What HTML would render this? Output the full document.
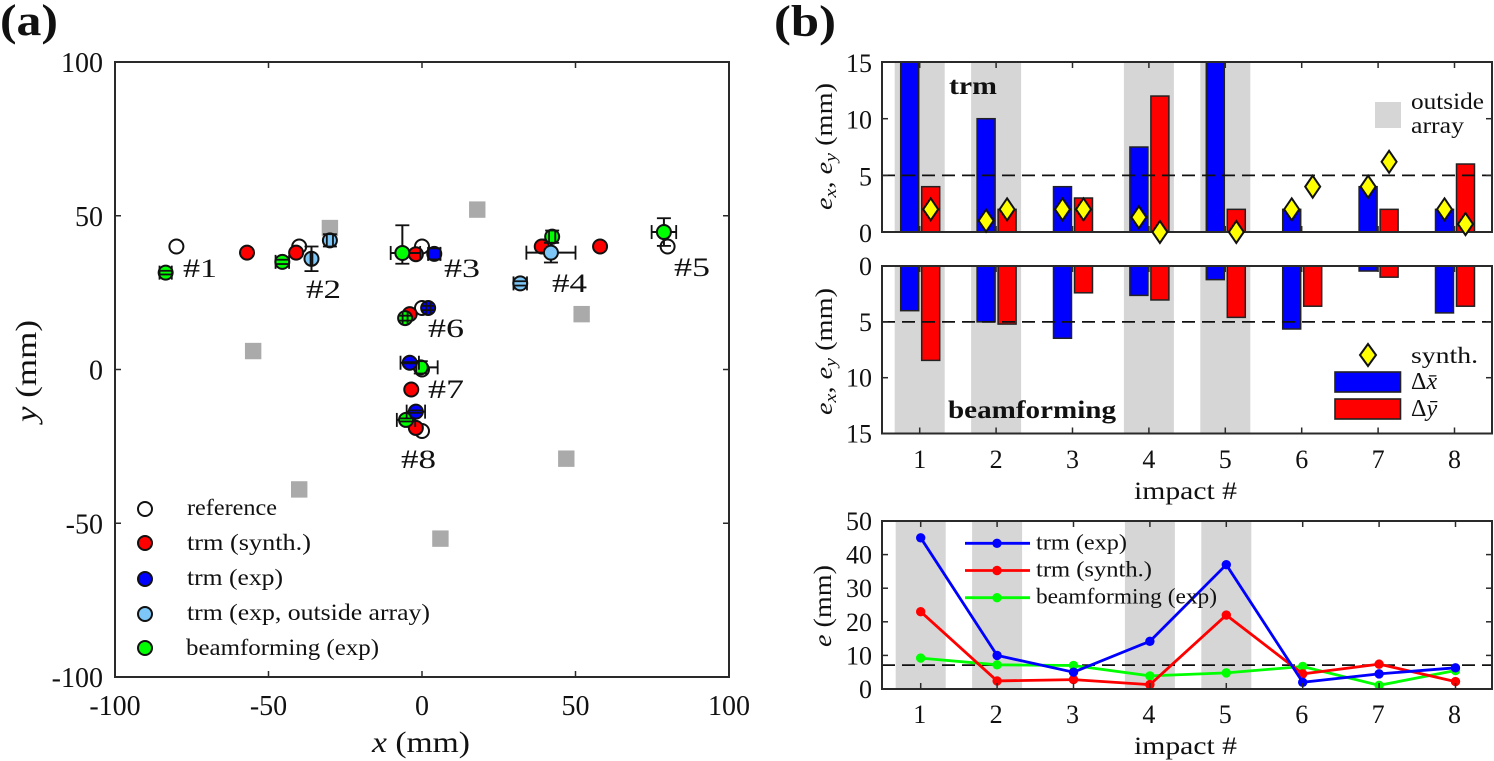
<!DOCTYPE html>
<html lang="en">
<head>
<meta charset="utf-8">
<title>Impact localisation results</title>
<style>
html,body{margin:0;padding:0;background:#fff;width:1494px;height:761px;overflow:hidden}
svg{display:block}
text{font-family:"Liberation Serif","DejaVu Serif",serif;fill:#111}
.i{font-style:italic}
</style>
</head>
<body>
<svg id="fig" xmlns="http://www.w3.org/2000/svg" width="1494" height="761" viewBox="0 0 1494 761">
  <defs>
    <clipPath id="clip-b1"><rect x="882" y="62" width="610" height="170"/></clipPath>
    <clipPath id="clip-b2"><rect x="882" y="266" width="610" height="168"/></clipPath>
  </defs>
  <g id="layer-a"></g>
  <g id="layer-b1"></g>
  <g id="layer-b2"></g>
  <g id="layer-b3"></g>

  <text x="0" y="35" font-size="44" font-weight="bold" textLength="58" lengthAdjust="spacingAndGlyphs">(a)</text>
  <text x="774" y="36" font-size="44" font-weight="bold" textLength="62" lengthAdjust="spacingAndGlyphs">(b)</text>

  <text x="372" y="752" font-size="30" textLength="98" lengthAdjust="spacingAndGlyphs"><tspan class="i">x</tspan> (mm)</text>
  <text transform="translate(36,422) rotate(-90)" font-size="30" textLength="102" lengthAdjust="spacingAndGlyphs"><tspan class="i">y</tspan> (mm)</text>

  <text x="183" y="277" font-size="26" textLength="34" lengthAdjust="spacingAndGlyphs">#1</text>
  <text x="306" y="298" font-size="26" textLength="35" lengthAdjust="spacingAndGlyphs">#2</text>
  <text x="444" y="277" font-size="26" textLength="36" lengthAdjust="spacingAndGlyphs">#3</text>
  <text x="552" y="292" font-size="26" textLength="35" lengthAdjust="spacingAndGlyphs">#4</text>
  <text x="674" y="276" font-size="26" textLength="36" lengthAdjust="spacingAndGlyphs">#5</text>
  <text x="428" y="337" font-size="26" textLength="36" lengthAdjust="spacingAndGlyphs">#6</text>
  <text x="428" y="398" font-size="26" textLength="36" lengthAdjust="spacingAndGlyphs">#7</text>
  <text x="401" y="468" font-size="26" textLength="35" lengthAdjust="spacingAndGlyphs">#8</text>

  <g>
    <circle cx="145" cy="509" r="7" fill="#fff" stroke="#111" stroke-width="2"/>
    <circle cx="145" cy="543" r="7" fill="#f00" stroke="#111" stroke-width="2"/>
    <circle cx="145" cy="579" r="7" fill="#00f" stroke="#111" stroke-width="2"/>
    <circle cx="145" cy="614" r="7" fill="#7cc7f7" stroke="#111" stroke-width="2"/>
    <circle cx="145" cy="648" r="7" fill="#0f0" stroke="#111" stroke-width="2"/>
    <text x="187" y="515" font-size="23" textLength="90" lengthAdjust="spacingAndGlyphs">reference</text>
    <text x="187" y="550" font-size="23" textLength="124" lengthAdjust="spacingAndGlyphs">trm (synth.)</text>
    <text x="187" y="585" font-size="23" textLength="96" lengthAdjust="spacingAndGlyphs">trm (exp)</text>
    <text x="187" y="620" font-size="23" textLength="243" lengthAdjust="spacingAndGlyphs">trm (exp, outside array)</text>
    <text x="186" y="655" font-size="23" textLength="193" lengthAdjust="spacingAndGlyphs">beamforming (exp)</text>
  </g>

  <text transform="translate(832,210) rotate(-90)" font-size="24" textLength="127" lengthAdjust="spacingAndGlyphs"><tspan class="i">e</tspan><tspan class="i" font-size="17" dy="4">x</tspan><tspan dy="-4">, </tspan><tspan class="i">e</tspan><tspan class="i" font-size="17" dy="4">y</tspan><tspan dy="-4"> (mm)</tspan></text>
  <text transform="translate(832,415) rotate(-90)" font-size="24" textLength="127" lengthAdjust="spacingAndGlyphs"><tspan class="i">e</tspan><tspan class="i" font-size="17" dy="4">x</tspan><tspan dy="-4">, </tspan><tspan class="i">e</tspan><tspan class="i" font-size="17" dy="4">y</tspan><tspan dy="-4"> (mm)</tspan></text>
  <text transform="translate(831,647) rotate(-90)" font-size="25" textLength="82" lengthAdjust="spacingAndGlyphs"><tspan class="i">e</tspan> (mm)</text>

  <text x="1134" y="499" font-size="25" textLength="103" lengthAdjust="spacingAndGlyphs">impact #</text>
  <text x="1134" y="754" font-size="25" textLength="103" lengthAdjust="spacingAndGlyphs">impact #</text>

  <text x="949" y="94" font-size="25" font-weight="bold" textLength="48" lengthAdjust="spacingAndGlyphs">trm</text>
  <text x="948" y="418" font-size="25" font-weight="bold" textLength="168" lengthAdjust="spacingAndGlyphs">beamforming</text>

  <g id="bar-legend">
    <rect x="1375" y="102" width="26" height="26" fill="#d6d6d6"/>
    <text x="1411" y="109" font-size="23" textLength="73" lengthAdjust="spacingAndGlyphs">outside</text>
    <text x="1411" y="133" font-size="23" textLength="53" lengthAdjust="spacingAndGlyphs">array</text>
    <polygon points="1368,344 1376,355 1368,366 1360,355" fill="#ff0" stroke="#111" stroke-width="2"/>
    <text x="1411" y="363" font-size="23" textLength="67" lengthAdjust="spacingAndGlyphs">synth.</text>
    <rect x="1335" y="372" width="65.5" height="20" fill="#00f" stroke="#222" stroke-width="1.6"/>
    <rect x="1335" y="399" width="65.5" height="20" fill="#f00" stroke="#222" stroke-width="1.6"/>
    <text x="1411" y="389" font-size="24">Δ<tspan class="i">x̄</tspan></text>
    <text x="1411" y="416" font-size="24">Δ<tspan class="i">ȳ</tspan></text>
  </g>

  <g id="line-legend"></g>
</svg>

<script>
// ---- map panel data (mm) ----
const mapTicks = [-100, -50, 0, 50, 100];
const refX = [-80, -40, 0, 40, 80, 0, 0, 0];
const refY = [40, 40, 40, 40, 40, 20, 0, -20];
const synthX = [-57, -41, -2, 39, 58, -4, -3.5, -2];
const synthY = [38, 38, 37.5, 40, 40, 18, -6.5, -19];
const beamX = [-83.5, -45.5, -6.4, 42.4, 78.8, -5.5, -0.4, -5.2];
const beamY = [31.5, 35, 37.9, 43.2, 44.7, 16.7, 0.7, -16.4];
const beamErrXLeft = [2, 2.2, 3.8, 1, 4, 0.8, 1.5, 3];
const beamErrXRight = [2, 2.2, 5.8, 1, 4, 0.8, 5.5, 3];
const beamErrYUp = [0.6, 0.7, 9, 2, 4.5, 0.8, 2, 0.5];
const beamErrYDown = [0.6, 0.7, 3.5, 2, 4.5, 0.8, 2, 0.5];
const trmExpX = [4, 2, -4, -2];
const trmExpY = [37.6, 20, 2.2, -13.7];
const trmExpErrX = [2, 0.7, 3, 3];
const trmExpErrY = [1.8, 0.7, 0.2, 0.4];
const outsideX = [-36, -30, 32, 42];
const outsideY = [36, 42, 28, 38];
const outsideErrX = [0.3, 1, 2.2, 8];
const outsideErrY = [4, 2, 0.7, 3.2];
const sensorX = [-30, 18, 52, -55, 47, -40, 6];
const sensorY = [46, 52, 18, 6, -29, -39, -55];

// ---- bar panel data ----
const impacts = [1, 2, 3, 4, 5, 6, 7, 8];
const outsideImpacts = [1, 2, 4, 5];
const trmTicks = [0, 5, 10, 15];
const trmDx = [16, 10, 4, 7.5, 16, 2, 4, 2];
const trmDy = [4, 2, 3, 12, 2, 0, 2, 6];
const synthDx = [null, 1, 2, 1.3, null, 2, 4, 2];
const synthDy = [2, 2, 2, 0, 0, 4, 6.2, 0.7];
const trmThreshold = [5];
const beamDx = [4, 5, 6.47, 2.63, 1.22, 5.64, 0.45, 4.2];
const beamDy = [8.45, 5.2, 2.4, 3.04, 4.6, 3.6, 1, 3.6];

// ---- total error panel data ----
const totalTicks = [0, 10, 20, 30, 40, 50];
const totalTrmExp = [45, 10, 5, 14.2, 37, 2, 4.5, 6.3];
const totalTrmSynth = [23, 2.4, 2.8, 1.3, 22, 4.5, 7.4, 2.2];
const totalBeam = [9.2, 7.2, 7, 3.9, 4.8, 6.7, 1.1, 5.5];
const totalThreshold = [7.1];

const NS = 'http://www.w3.org/2000/svg';
const AXIS = '#2a2a2a';

function add(parent, tag, attrs, txt) {
  const node = document.createElementNS(NS, tag);
  for (const k in attrs) node.setAttribute(k, attrs[k]);
  if (txt !== undefined) node.textContent = txt;
  parent.appendChild(node);
  return node;
}
function tickMark(parent, x1, y1, x2, y2) {
  const el = add(parent, 'line', {x1, y1, x2, y2, stroke: AXIS, 'stroke-width': 1.5});
  
  
}
function tickLabel(parent, x, y, anchor, size, s) {
  const el = add(parent, 'text', {x, y, 'text-anchor': anchor, 'font-size': size}, s);
  
  
}
function box(parent, x, y, w, h) {
  const el = add(parent, 'rect', {x, y, width: w, height: h, fill: 'none', stroke: AXIS, 'stroke-width': 2});
  
  
}
function dashed(parent, y) {
  const el = add(parent, 'line', {x1: 882, x2: 1492, y1: y, y2: y, stroke: '#111', 'stroke-width': 1.8, 'stroke-dasharray': '13 7'});
  
  
}
function band(parent, cx, top, h) {
  const el = add(parent, 'rect', {x: cx - 25, y: top, width: 50, height: h, fill: '#d6d6d6'});
  
  
}

// ---- panel (a) ----
const mapX = v => 422 + v * 3.07;
const mapY = v => 369.5 - v * 3.075;
const gA = document.getElementById('layer-a');

sensorX.forEach((v, i) => {
  const el = add(gA, 'rect', {x: mapX(v) - 8.2, y: mapY(sensorY[i]) - 8.2, width: 16.4, height: 16.4, fill: '#aaa'});
  
  
});

function marker(x, y, fill) {
  const el = add(gA, 'circle', {cx: mapX(x), cy: mapY(y), r: 7, fill, stroke: '#111', 'stroke-width': 2});
  
  
}
function errStem(x, y, el_, er, eu, ed) {
  const cx = mapX(x), cy = mapY(y);
  const h = add(gA, 'line', {x1: mapX(x - el_), x2: mapX(x + er), y1: cy, y2: cy, stroke: '#111', 'stroke-width': 2});
  
  
  const v = add(gA, 'line', {x1: cx, x2: cx, y1: mapY(y + eu), y2: mapY(y - ed), stroke: '#111', 'stroke-width': 2});
  
  
}
function errCaps(x, y, el_, er, eu, ed) {
  const cx = mapX(x), cy = mapY(y), c = 7;
  [x - el_, x + er].forEach(p => {
    const el = add(gA, 'line', {x1: mapX(p), x2: mapX(p), y1: cy - c, y2: cy + c, stroke: '#111', 'stroke-width': 1.8});
    
    
  });
  [y + eu, y - ed].forEach(p => {
    const el = add(gA, 'line', {x1: cx - c, x2: cx + c, y1: mapY(p), y2: mapY(p), stroke: '#111', 'stroke-width': 1.8});
    
    
  });
}

refX.forEach((v, i) => marker(v, refY[i], '#fff'));
synthX.forEach((v, i) => marker(v, synthY[i], '#f00'));
beamX.forEach((v, i) => {
  errStem(v, beamY[i], beamErrXLeft[i], beamErrXRight[i], beamErrYUp[i], beamErrYDown[i]);
  marker(v, beamY[i], '#0f0');
  errCaps(v, beamY[i], beamErrXLeft[i], beamErrXRight[i], beamErrYUp[i], beamErrYDown[i]);
});
trmExpX.forEach((v, i) => {
  errStem(v, trmExpY[i], trmExpErrX[i], trmExpErrX[i], trmExpErrY[i], trmExpErrY[i]);
  marker(v, trmExpY[i], '#00f');
  errCaps(v, trmExpY[i], trmExpErrX[i], trmExpErrX[i], trmExpErrY[i], trmExpErrY[i]);
});
outsideX.forEach((v, i) => {
  errStem(v, outsideY[i], outsideErrX[i], outsideErrX[i], outsideErrY[i], outsideErrY[i]);
  marker(v, outsideY[i], '#7cc7f7');
  errCaps(v, outsideY[i], outsideErrX[i], outsideErrX[i], outsideErrY[i], outsideErrY[i]);
});

box(gA, mapX(-100), mapY(100), mapX(100) - mapX(-100), mapY(-100) - mapY(100));
mapTicks.forEach(t => {
  const x = mapX(t), y = mapY(t);
  tickMark(gA, x, mapY(100), x, mapY(100) + 6);
  tickMark(gA, x, mapY(-100), x, mapY(-100) - 6);
  tickMark(gA, mapX(-100), y, mapX(-100) + 6, y);
  tickMark(gA, mapX(100), y, mapX(100) - 6, y);
  tickLabel(gA, x, 715, 'middle', 28, String(t));
  tickLabel(gA, 103, y + 10, 'end', 28, String(t));
});

// ---- panels (b) shared x ----
const barX = n => 919.7 + (n - 1) * 76.4;
const lineX = n => 920.7 + (n - 1) * 76.4;
const BW = 18, OFFB = -10, OFFR = 11;

// ---- panel b1 ----
const y1 = v => 232 - v * 11.33;
const gB1 = document.getElementById('layer-b1');
outsideImpacts.forEach(n => band(gB1, barX(n), 62, 170));
const gB1c = add(gB1, 'g', {'clip-path': 'url(#clip-b1)'});


impacts.forEach((n, i) => {
  const b = add(gB1c, 'rect', {x: barX(n) + OFFB - BW / 2, y: y1(trmDx[i]), width: BW, height: y1(0) - y1(trmDx[i]), fill: '#00f', stroke: '#222', 'stroke-width': 1.5});
  
  
  const r = add(gB1c, 'rect', {x: barX(n) + OFFR - BW / 2, y: y1(trmDy[i]), width: BW, height: y1(0) - y1(trmDy[i]), fill: '#f00', stroke: '#222', 'stroke-width': 1.5});
  
  
});
dashed(gB1, y1(trmThreshold[0]));
box(gB1, 882, 62, 610, 170);
impacts.forEach(n => {
  tickMark(gB1, barX(n), 62, barX(n), 68);
  tickMark(gB1, barX(n), 232, barX(n), 226);
});
trmTicks.forEach(t => {
  tickMark(gB1, 882, y1(t), 888, y1(t));
  tickMark(gB1, 1492, y1(t), 1486, y1(t));
  tickLabel(gB1, 872, y1(t) + 10, 'end', 26, String(t));
});
function diamond(parent, cx, cy) {
  const el = add(parent, 'polygon', {points: `${cx},${cy - 11} ${cx + 7.5},${cy} ${cx},${cy + 11} ${cx - 7.5},${cy}`, fill: '#ff0', stroke: '#111', 'stroke-width': 2});
  
  
}
impacts.forEach((n, i) => {
  if (synthDx[i] !== null) diamond(gB1, barX(n) + OFFB, y1(synthDx[i]));
  if (synthDy[i] !== null) diamond(gB1, barX(n) + OFFR, y1(synthDy[i]));
});

// ---- panel b2 ----
const y2 = v => 266 + v * 11.17;
const gB2 = document.getElementById('layer-b2');
outsideImpacts.forEach(n => band(gB2, barX(n), 266, 167.5));
const gB2c = add(gB2, 'g', {'clip-path': 'url(#clip-b2)'});


impacts.forEach((n, i) => {
  const b = add(gB2c, 'rect', {x: barX(n) + OFFB - BW / 2, y: y2(0), width: BW, height: y2(beamDx[i]) - y2(0), fill: '#00f', stroke: '#222', 'stroke-width': 1.5});
  
  
  const r = add(gB2c, 'rect', {x: barX(n) + OFFR - BW / 2, y: y2(0), width: BW, height: y2(beamDy[i]) - y2(0), fill: '#f00', stroke: '#222', 'stroke-width': 1.5});
  
  
});
dashed(gB2, y2(trmThreshold[0]));
box(gB2, 882, 266, 610, 167.5);
impacts.forEach(n => {
  tickMark(gB2, barX(n), 266, barX(n), 272);
  tickMark(gB2, barX(n), 433.5, barX(n), 427.5);
  tickLabel(gB2, barX(n), 468, 'middle', 26, String(n));
});
trmTicks.forEach(t => {
  tickMark(gB2, 882, y2(t), 888, y2(t));
  tickMark(gB2, 1492, y2(t), 1486, y2(t));
  tickLabel(gB2, 872, y2(t) + 9, 'end', 26, String(t));
});

// ---- panel b3 ----
const y3 = v => 689 - v * 3.36;
const gB3 = document.getElementById('layer-b3');
outsideImpacts.forEach(n => band(gB3, lineX(n), 521, 168));
dashed(gB3, y3(totalThreshold[0]));
function series(values, color, name) {
  const pts = values.map((v, i) => lineX(impacts[i]) + ',' + y3(v)).join(' ');
  const l = add(gB3, 'polyline', {points: pts, fill: 'none', stroke: color, 'stroke-width': 2.8});
  
  
  values.forEach((v, i) => {
    const c = add(gB3, 'circle', {cx: lineX(impacts[i]), cy: y3(v), r: 4.7, fill: color});
    
    
  });
}
series(totalBeam, '#0f0', 'line-beamforming-exp');
series(totalTrmSynth, '#f00', 'line-trm-synth');
series(totalTrmExp, '#00f', 'line-trm-exp');
box(gB3, 882, 521, 610, 168);
impacts.forEach(n => {
  tickMark(gB3, lineX(n), 521, lineX(n), 527);
  tickMark(gB3, lineX(n), 689, lineX(n), 683);
  tickLabel(gB3, lineX(n) - 1, 723, 'middle', 26, String(n));
});
totalTicks.forEach(t => {
  tickMark(gB3, 882, y3(t), 888, y3(t));
  tickMark(gB3, 1492, y3(t), 1486, y3(t));
  tickLabel(gB3, 872, y3(t) + 9, 'end', 26, String(t));
});

// ---- line legend ----
const lineLegendLabels = ['trm (exp)', 'trm (synth.)', 'beamforming (exp)'];
const lineLegendColors = ['#00f', '#f00', '#0f0'];
const gL = document.getElementById('line-legend');
lineLegendLabels.forEach((s, i) => {
  const ly = 543.3 + i * 27.2;
  const l = add(gL, 'line', {x1: 965, x2: 1030, y1: ly, y2: ly, stroke: lineLegendColors[i], 'stroke-width': 2.8});
  
  
  const c = add(gL, 'circle', {cx: 997, cy: ly, r: 4.7, fill: lineLegendColors[i]});
  
  
  const t = add(gL, 'text', {x: 1036, y: ly + 6, 'font-size': 22, textLength: [91, 116, 181][i], lengthAdjust: 'spacingAndGlyphs'}, s);
  
  
});
</script>
</body>
</html>
